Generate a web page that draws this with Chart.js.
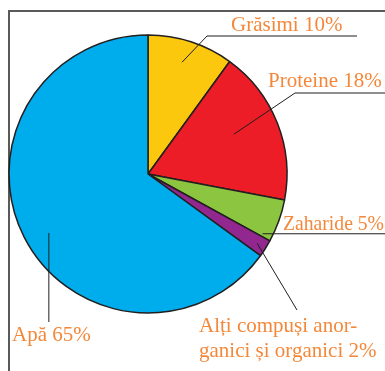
<!DOCTYPE html>
<html>
<head>
<meta charset="utf-8">
<script src="https://cdn.jsdelivr.net/npm/chart.js@4.4.1/dist/chart.umd.min.js"></script>
<style>
  html, body { margin: 0; padding: 0; background: #fff; }
  canvas { display: block; }
</style>
</head>
<body>
<canvas id="myChart" width="385" height="371"></canvas>
<script>
// compozitia chimica a celulei, in procente
var categorii = ["Grăsimi", "Proteine", "Zaharide", "Alți compuși anorganici și organici", "Apă"];
var procente = [10, 18, 5, 2, 65];
var culori = ["#fcc80e", "#ec1d27", "#8cc540", "#92278f", "#00adec"];
// textul etichetelor, randurile; procentul se adauga la ultimul rand
var randuri = [["Grăsimi"], ["Proteine"], ["Zaharide"], ["Alți compuși anor-", "ganici și organici"], ["Apă"]];

var portocaliu = "#f4883a";

// unde porneste linia din felie: t = pozitie pe unghi, rf = fractiune din raza
var ancore = [
  { t: 0.47, rf: 0.84 },
  { t: 0.45, rf: 0.68 },
  { t: 0.93, rf: 0.93 },
  { t: 0.5, rf: 0.93 },
  { t: 0.484, rf: 0.83 }
];

function punct(arc, t, rf) {
  var p = arc.getProps(["x", "y", "startAngle", "endAngle", "outerRadius"], true);
  var a = p.startAngle + t * (p.endAngle - p.startAngle);
  return { x: p.x + Math.cos(a) * p.outerRadius * rf, y: p.y + Math.sin(a) * p.outerRadius * rf };
}

function text_eticheta(i) {
  var r = randuri[i].slice();
  r[r.length - 1] = r[r.length - 1] + " " + procente[i] + "%";
  return r;
}

var chenar = {
  id: "chenar",
  beforeDatasetsDraw: function(chart) {
    var ctx = chart.ctx;
    ctx.save();
    ctx.strokeStyle = "#5a5a5a";
    ctx.lineWidth = 2;
    ctx.beginPath();
    ctx.moveTo(9, 371);
    ctx.lineTo(9, 11);
    ctx.lineTo(385, 11);
    ctx.stroke();
    ctx.restore();
  }
};

var etichete = {
  id: "etichete",
  afterDatasetsDraw: function(chart) {
    var ctx = chart.ctx;
    var arce = chart.getDatasetMeta(0).data;
    var p = [];
    for (var i = 0; i < arce.length; i++) p.push(punct(arce[i], ancore[i].t, ancore[i].rf));

    ctx.save();
    ctx.strokeStyle = "#1e1e1e";
    ctx.lineWidth = 1;

    // Grasimi
    ctx.beginPath();
    ctx.moveTo(p[0].x, p[0].y);
    ctx.lineTo(207, 36);
    ctx.lineTo(357, 36);
    ctx.stroke();
    // Proteine
    ctx.beginPath();
    ctx.moveTo(p[1].x, p[1].y);
    ctx.lineTo(295, 93);
    ctx.lineTo(385, 93);
    ctx.stroke();
    // Zaharide
    ctx.beginPath();
    ctx.moveTo(p[2].x, p[2].y);
    ctx.lineTo(385, p[2].y);
    ctx.stroke();
    // Alti compusi
    ctx.beginPath();
    ctx.moveTo(p[3].x, p[3].y);
    ctx.lineTo(297, 310);
    ctx.stroke();
    // Apa
    ctx.beginPath();
    ctx.moveTo(p[4].x, p[4].y);
    ctx.lineTo(p[4].x, 322);
    ctx.stroke();

    ctx.fillStyle = portocaliu;
    ctx.font = "21px 'Liberation Serif', 'DejaVu Serif', serif";
    ctx.textBaseline = "alphabetic";
    ctx.textAlign = "left";
    ctx.fillText(text_eticheta(0)[0], 231, 31);
    ctx.fillText(text_eticheta(1)[0], 268, 87);
    var alti = text_eticheta(3);
    ctx.fillText(alti[0], 199, 332);
    ctx.fillText(alti[1], 199, 357);
    ctx.fillText(text_eticheta(4)[0], 12, 341);
    ctx.textAlign = "right";
    ctx.fillText(text_eticheta(2)[0], 384, p[2].y - 4, 101);
    ctx.restore();
  }
};

var ctx = document.getElementById("myChart");
var myPieChart = new Chart(ctx, {
  type: "pie",
  data: {
    labels: categorii,
    datasets: [{
      data: procente,
      backgroundColor: culori,
      borderColor: "#231f20",
      borderWidth: 1.5
    }]
  },
  options: {
    responsive: false,
    animation: false,
    radius: 139,
    layout: { padding: { left: 0, right: 89, top: 0, bottom: 23 } },
    plugins: {
      legend: { display: false },
      tooltip: { enabled: false }
    }
  },
  plugins: [chenar, etichete]
});
</script>
</body>
</html>
